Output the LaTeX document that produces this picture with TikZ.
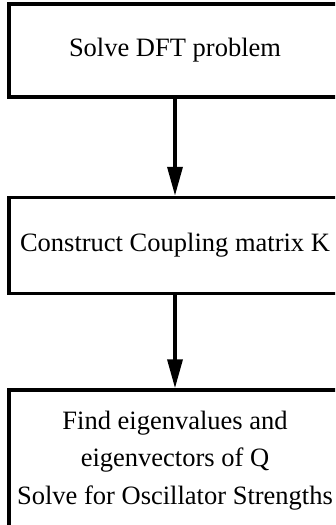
\documentclass[tikz,border=0pt]{standalone}
\usepackage{fontspec}
\setmainfont{Liberation Serif}
\usetikzlibrary{arrows.meta}
\usetikzlibrary{positioning}

\begin{document}
\begin{tikzpicture}[-{Triangle[length=29pt,width=15pt]},line width=3.5pt,auto,node distance=97pt]
						\tikzstyle{stepbox}=[draw, rectangle, minimum width=332pt, inner sep=2pt, align=center, font=\fontsize{26.5}{37.5}\selectfont]
						\useasboundingbox (0pt,0pt) rectangle (335pt,-525pt);
						\clip (0pt,0pt) rectangle (335pt,-525pt);
						\node[stepbox, minimum height=93pt] 	(dft) at (175pt,-50.5pt)          {Solve DFT problem};
 					 	\node[stepbox, minimum height=96pt] 	(coup) [below=of dft]            {Construct Coupling matrix K};
 					 	\node[stepbox, minimum height=141pt] 	(eig) [below=93pt of coup]            {Find eigenvalues and\\eigenvectors of Q\\Solve for Oscillator Strengths};
 				  \path
					 (dft) edge (coup)
			 		 (coup) edge (eig);
				\end{tikzpicture}
\end{document}
